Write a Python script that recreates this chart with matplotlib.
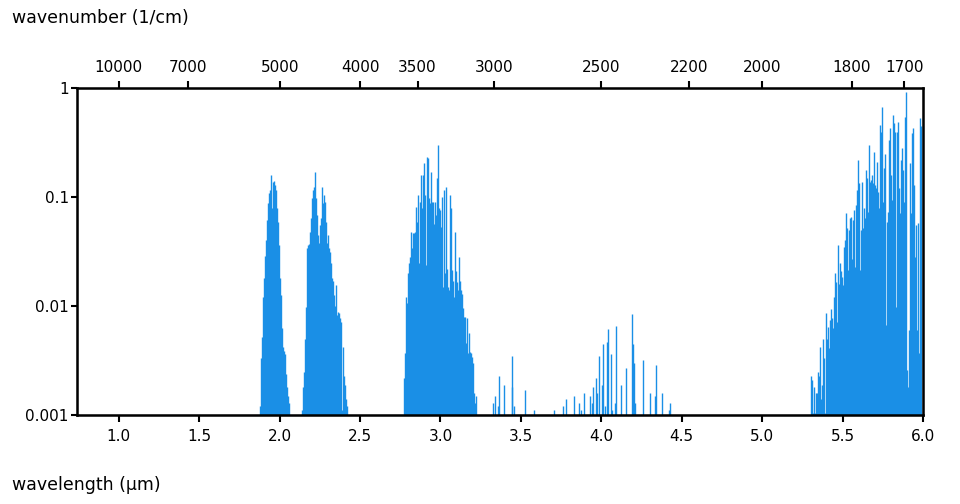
#!/usr/bin/env python3

import numpy as np
import matplotlib
matplotlib.use("Agg")
import matplotlib.pyplot as plt

# line positions (wavelength, um) and absorption strength
band1_wl = [1.877, 1.883, 1.889, 1.896, 1.902, 1.908, 1.914, 1.920, 1.927, 1.933,
            1.939, 1.945, 1.951, 1.958, 1.964, 1.970, 1.976, 1.983, 1.989, 1.995,
            2.001, 2.007, 2.014, 2.020, 2.026, 2.032, 2.039, 2.045, 2.051, 2.057]
band1_val = [0.0012, 0.0033, 0.0052, 0.012, 0.018, 0.029, 0.040, 0.062, 0.088, 0.109,
             0.116, 0.160, 0.080, 0.137, 0.140, 0.129, 0.116, 0.079, 0.059, 0.036,
             0.018, 0.0126, 0.0063, 0.0042, 0.0039, 0.0036, 0.0024, 0.0018, 0.0015, 0.0013]

band2_wl = [2.138, 2.144, 2.150, 2.157, 2.163, 2.169, 2.175, 2.182, 2.188, 2.194,
            2.200, 2.206, 2.213, 2.219, 2.225, 2.231, 2.238, 2.244, 2.250, 2.256,
            2.262, 2.269, 2.275, 2.281, 2.287, 2.294, 2.300, 2.306, 2.312, 2.318,
            2.325, 2.331, 2.337, 2.343, 2.349, 2.356, 2.362, 2.368, 2.374, 2.381,
            2.387, 2.393, 2.399, 2.405, 2.412, 2.418]
band2_val = [0.0011, 0.0018, 0.0025, 0.005, 0.0098, 0.034, 0.036, 0.037, 0.048, 0.064,
             0.098, 0.116, 0.124, 0.170, 0.098, 0.068, 0.045, 0.038, 0.055, 0.064,
             0.124, 0.088, 0.104, 0.090, 0.059, 0.038, 0.045, 0.034, 0.031, 0.025,
             0.018, 0.017, 0.0126, 0.010, 0.0156, 0.0083, 0.0088, 0.0086, 0.0078, 0.0071,
             0.0011, 0.0042, 0.0023, 0.0019, 0.0014, 0.0012]

band3_wl = [2.772, 2.779, 2.785, 2.791, 2.797, 2.803, 2.810, 2.816, 2.822, 2.828,
            2.834, 2.841, 2.847, 2.853, 2.859, 2.866, 2.872, 2.878, 2.884, 2.891,
            2.897, 2.903, 2.909, 2.915, 2.922, 2.928, 2.934, 2.940, 2.947, 2.953,
            2.959, 2.965, 2.971, 2.978, 2.984, 2.990, 2.996, 3.002, 3.009, 3.015,
            3.021, 3.027, 3.033, 3.040, 3.046, 3.052, 3.058, 3.065, 3.071, 3.077,
            3.083, 3.090, 3.096, 3.102, 3.108, 3.114, 3.121, 3.127, 3.133, 3.139,
            3.146, 3.152, 3.158, 3.164, 3.170, 3.177, 3.183, 3.189, 3.195, 3.201,
            3.208, 3.214, 3.220]
band3_val = [0.0022, 0.0037, 0.012, 0.0106, 0.020, 0.025, 0.028, 0.048, 0.034, 0.047,
             0.047, 0.048, 0.081, 0.059, 0.104, 0.025, 0.090, 0.160, 0.079, 0.160,
             0.205, 0.104, 0.024, 0.233, 0.228, 0.098, 0.088, 0.170, 0.090, 0.090,
             0.057, 0.090, 0.068, 0.150, 0.300, 0.079, 0.076, 0.053, 0.100, 0.015,
             0.116, 0.020, 0.124, 0.022, 0.015, 0.014, 0.104, 0.079, 0.0215, 0.017,
             0.012, 0.048, 0.021, 0.0167, 0.014, 0.028, 0.017, 0.014, 0.013, 0.0096,
             0.0079, 0.008, 0.0046, 0.0078, 0.0037, 0.0057, 0.0038, 0.0037, 0.0034, 0.003,
             0.0016, 0.0013, 0.0015]

weak_wl = [3.329, 3.338, 3.359, 3.365, 3.396, 3.442, 3.446, 3.456, 3.523, 3.583,
           3.703, 3.759, 3.778, 3.830, 3.861, 3.873, 3.890, 3.927, 3.943, 3.950,
           3.965, 3.975, 3.985, 4.002, 4.008, 4.024, 4.035, 4.041, 4.060, 4.068,
           4.085, 4.089, 4.120, 4.151, 4.188, 4.195, 4.201, 4.209, 4.257, 4.300,
           4.331, 4.338, 4.375, 4.419, 4.427]
weak_val = [0.0013, 0.0015, 0.0012, 0.0023, 0.0019, 0.0035, 0.0018, 0.0012, 0.0017, 0.0011,
            0.0011, 0.0012, 0.0014, 0.0015, 0.0013, 0.0011, 0.0016, 0.0015, 0.0013, 0.0018,
            0.0022, 0.0016, 0.0035, 0.0019, 0.0045, 0.0012, 0.0047, 0.0062, 0.0036, 0.0011,
            0.0013, 0.0066, 0.0019, 0.0027, 0.0084, 0.0045, 0.0030, 0.0013, 0.0032, 0.0016,
            0.0015, 0.0029, 0.0016, 0.0011, 0.0013]

band5_wl = [5.303, 5.310, 5.316, 5.322, 5.328, 5.334, 5.341, 5.347, 5.353, 5.359,
            5.366, 5.372, 5.378, 5.384, 5.391, 5.397, 5.403, 5.409, 5.415, 5.422,
            5.428, 5.434, 5.440, 5.447, 5.453, 5.459, 5.465, 5.471, 5.478, 5.484,
            5.490, 5.496, 5.502, 5.509, 5.515, 5.521, 5.527, 5.534, 5.540, 5.546,
            5.552, 5.558, 5.565, 5.571, 5.577, 5.583, 5.590, 5.596, 5.602, 5.608,
            5.614, 5.621, 5.627, 5.633, 5.639, 5.646, 5.652, 5.658, 5.664, 5.670,
            5.677, 5.683, 5.689, 5.695, 5.701, 5.708, 5.714, 5.720, 5.726, 5.733,
            5.739, 5.745, 5.751, 5.757, 5.764, 5.770, 5.776, 5.782, 5.789, 5.795,
            5.801, 5.807, 5.813, 5.820, 5.826, 5.832, 5.838, 5.845, 5.851, 5.857,
            5.863, 5.869, 5.876, 5.882, 5.888, 5.894, 5.901, 5.907, 5.913, 5.919,
            5.925, 5.932, 5.938, 5.944, 5.950, 5.956, 5.963, 5.969, 5.975, 5.981,
            5.988]
band5_val = [0.0023, 0.0021, 0.00105, 0.0018, 0.00105, 0.0016, 0.0016, 0.0025, 0.0023, 0.0042,
             0.0014, 0.0019, 0.0050, 0.0033, 0.00105, 0.0086, 0.0050, 0.0064, 0.0041, 0.0075,
             0.0093, 0.0078, 0.0063, 0.012, 0.020, 0.0167, 0.0072, 0.036, 0.016, 0.025,
             0.021, 0.0184, 0.0156, 0.035, 0.040, 0.071, 0.052, 0.0215, 0.050, 0.064,
             0.066, 0.027, 0.062, 0.076, 0.023, 0.084, 0.116, 0.22, 0.134, 0.0215,
             0.050, 0.137, 0.052, 0.079, 0.064, 0.176, 0.15, 0.073, 0.30, 0.137,
             0.143, 0.16, 0.134, 0.26, 0.129, 0.12, 0.21, 0.111, 0.079, 0.458,
             0.395, 0.67, 0.09, 0.184, 0.25, 0.0067, 0.059, 0.073, 0.333, 0.43,
             0.16, 0.094, 0.565, 0.477, 0.395, 0.0098, 0.395, 0.49, 0.12, 0.071,
             0.22, 0.28, 0.176, 0.09, 0.54, 0.92, 0.0026, 0.0018, 0.006, 0.205,
             0.071, 0.386, 0.43, 0.129, 0.028, 0.055, 0.006, 0.058, 0.0037, 0.53,
             0.45]

wl_ticks = [1.0, 1.5, 2.0, 2.5, 3.0, 3.5, 4.0, 4.5, 5.0, 5.5, 6.0]
wn_ticks = [10000, 7000, 5000, 4000, 3500, 3000, 2500, 2200, 2000, 1800, 1700]
y_ticks = [0.001, 0.01, 0.1, 1]
y_labels = ["0.001", "0.01", "0.1", "1"]

color = "#1a8fe6"
fs = 11

fig = plt.figure(figsize=(9.6, 5.04), dpi=100)
ax = fig.add_axes([77 / 960, 89 / 504, 846 / 960, 327 / 504])

wl = band1_wl + band2_wl + band3_wl + weak_wl + band5_wl
val = band1_val + band2_val + band3_val + weak_val + band5_val
ax.vlines(wl, 0.001, val, color=color, linewidth=1.0)

ax.set_yscale("log")
ax.set_ylim(0.001, 1)
ax.set_xlim(0.74, 6.0)
ax.minorticks_off()
ax.set_yticks(y_ticks)
ax.set_yticklabels(y_labels)
ax.set_xticks(wl_ticks)
ax.set_xticklabels([f"{t:.1f}" for t in wl_ticks])
ax.tick_params(axis="both", direction="out", length=5, width=1.5, labelsize=fs)
ax.tick_params(axis="x", pad=5)
ax.tick_params(axis="y", length=4, pad=2)
for s in ax.spines.values():
    s.set_linewidth(1.8)

# top axis in wavenumber
ax2 = ax.twiny()
ax2.set_xlim(ax.get_xlim())
ax2.set_xticks([1e4 / w for w in wn_ticks])
ax2.set_xticklabels([str(w) for w in wn_ticks])
ax2.minorticks_off()
ax2.tick_params(axis="x", direction="out", length=5, width=1.5, labelsize=fs, pad=4)

fig.text(12 / 960, 1 - 18 / 504, "wavenumber (1/cm)", fontsize=12.5, ha="left", va="center")
fig.text(12 / 960, 1 - 485 / 504, "wavelength (\u00b5m)", fontsize=12.5, ha="left", va="center")

fig.savefig("out.png", dpi=100)
